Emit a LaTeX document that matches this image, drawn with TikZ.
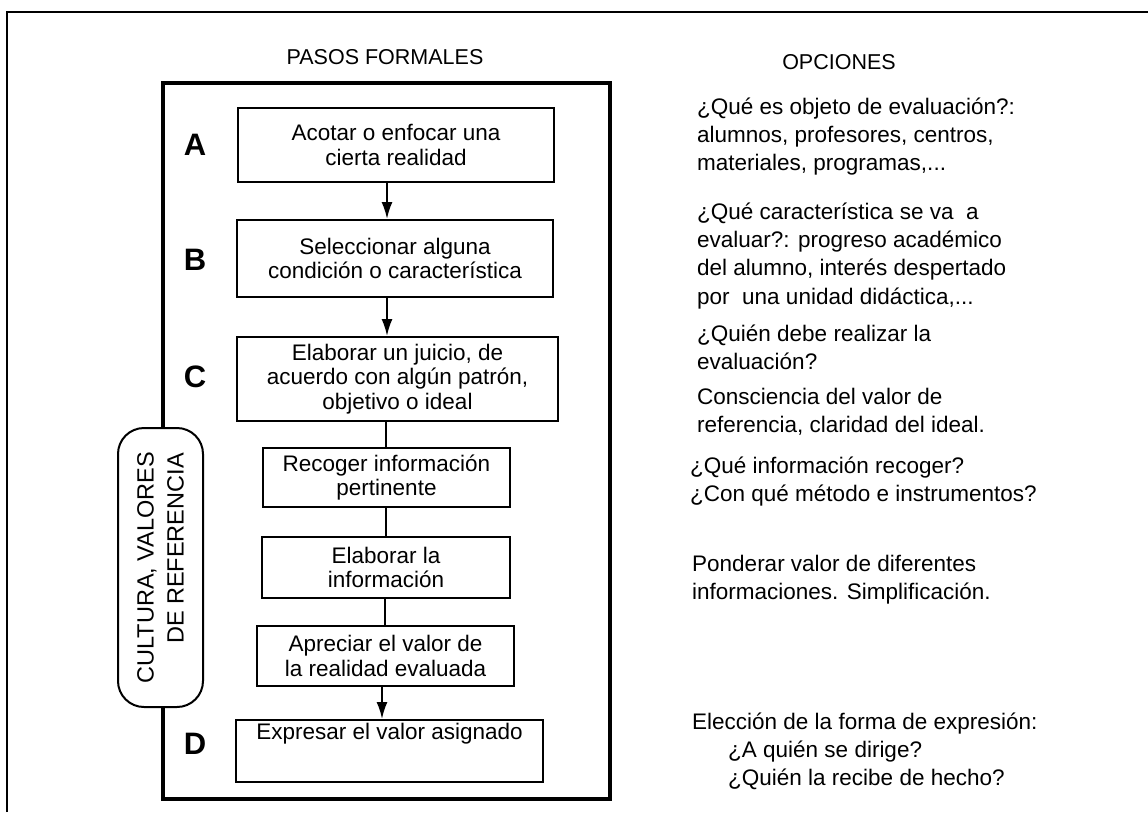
\documentclass[tikz,border=0pt]{standalone}
\usepackage{fontspec}
\setmainfont{Liberation Sans}
\usetikzlibrary{arrows.meta}
\newcommand\bxfont{\fontsize{22.5}{24.5}\selectfont}
\newcommand\opfont{\fontsize{22.5}{28.4}\selectfont}
\begin{document}
\begin{tikzpicture}[x=1pt,y=-1pt,
  stepbox/.style={draw, line width=2pt, align=center, inner sep=0pt, font=\bxfont},
  optxt/.style={anchor=north west, align=left, inner sep=0pt, font=\opfont},
  letter/.style={font=\fontsize{31}{31}\selectfont\bfseries, inner sep=0pt},
  head/.style={font=\fontsize{21.5}{24}\selectfont, inner sep=0pt},
  arr/.style={line width=2pt, -{Latex[length=17pt,width=11pt]}},
  ln/.style={line width=2pt}
]
\useasboundingbox (0,0) rectangle (1148,812);
\fill[white] (0,0) rectangle (1148,812);
% page frame (top and left edges)
\draw[line width=2pt] (7,812) -- (7,12) -- (1148,12);
% big frame
\draw[line width=3.5pt] (163,83) rectangle (610,799);

% headers
\node[head] (h1) at (385,57) {PASOS FORMALES};
\node[head] (h2) at (839,62) {OPCIONES};

% steps
\node[stepbox, minimum width=316pt, minimum height=74pt] (A) at (396,145) {Acotar o enfocar una\\cierta realidad};
\node[stepbox, minimum width=316pt, minimum height=77pt] (B) at (395,258.5) {Seleccionar alguna\\condición o característica};
\node[stepbox, minimum width=321pt, minimum height=84pt] (C) at (397.5,379) {Elaborar un juicio, de\\acuerdo con algún patrón,\\objetivo o ideal};
\node[stepbox, minimum width=247pt, minimum height=59pt] (R) at (386.5,477.5) {Recoger información\\pertinente};
\node[stepbox, minimum width=248pt, minimum height=61pt] (E) at (386,567.5) {Elaborar la\\información};
\node[stepbox, minimum width=257pt, minimum height=60pt] (P) at (385.5,656) {Apreciar el valor de\\la realidad evaluada};
\node[stepbox, minimum width=307pt, minimum height=62pt] (D) at (389.5,751) {Expresar el valor asignado\\[8pt]\strut};

% letters
\node[letter] (la) at (195,145) {A};
\node[letter] (lb) at (195,260) {B};
\node[letter] (lc) at (195,377) {C};
\node[letter] (ld) at (195,744) {D};

% connectors
\coordinate (xa) at (387,0);
\coordinate (xc) at (386,0);
\coordinate (xe) at (385,0);
\coordinate (xd) at (382,0);
\draw[arr] (A.south -| xa) -- (B.north -| xa);
\draw[arr] (B.south -| xa) -- (C.north -| xa);
\draw[ln] (C.south -| xc) -- (R.north -| xc);
\draw[ln] (R.south -| xc) -- (E.north -| xc);
\draw[ln] (E.south -| xe) -- (P.north -| xe);
\draw[arr] (P.south -| xd) -- (D.north -| xd);

% culture box
\node[draw, fill=white, line width=2pt, rounded corners=26pt, rotate=90,
      minimum width=279pt, minimum height=85pt, inner sep=0pt, align=center,
      font=\fontsize{23.5}{30}\selectfont] (cult) at (160.5,567.5)
      {CULTURA, VALORES\\\hspace*{38pt}DE REFERENCIA};

% options
\node[optxt] (o1) at (697,94) {\strut¿Qué es objeto de evaluación?:\\\strut alumnos, profesores, centros,\\\strut materiales, programas,...};
\node[optxt] (o2) at (697,199) {\strut¿Qué característica se va\ \ a\\\strut evaluar?: progreso académico\\\strut del alumno, interés despertado\\\strut por\ \ una unidad didáctica,...};
\node[optxt] (o3) at (697,321) {\strut¿Quién debe realizar la\\\strut evaluación?};
\node[optxt] (o4) at (697,384) {\strut Consciencia del valor de\\\strut referencia, claridad del ideal.};
\node[optxt] (o5) at (690,453) {\strut¿Qué información recoger?\\\strut¿Con qué método e instrumentos?};
\node[optxt] (o6) at (692,551) {\strut Ponderar valor de diferentes\\\strut informaciones. Simplificación.};
\node[optxt] (o7) at (692,709) {\strut Elección de la forma de expresión:\\\strut\hspace*{36pt}¿A quién se dirige?\\\strut\hspace*{36pt}¿Quién la recibe de hecho?};
\end{tikzpicture}
\end{document}
